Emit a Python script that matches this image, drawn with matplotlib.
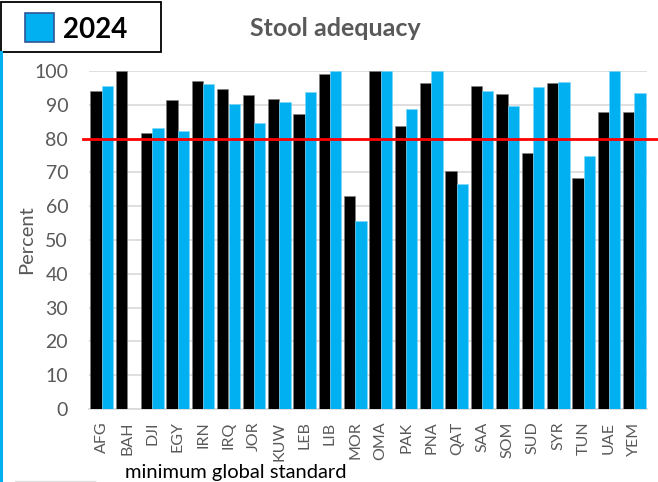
import numpy as np
import matplotlib
matplotlib.use('Agg')
from matplotlib import pyplot as plt
from matplotlib import transforms
from matplotlib.lines import Line2D
from matplotlib.patches import Rectangle

plt.rcParams['font.family'] = ['Lato', 'DejaVu Sans']

# Data
countries = ['AFG', 'BAH', 'DJI', 'EGY', 'IRN', 'IRQ', 'JOR', 'KUW', 'LEB', 'LIB', 'MOR',
             'OMA', 'PAK', 'PNA', 'QAT', 'SAA', 'SOM', 'SUD', 'SYR', 'TUN', 'UAE', 'YEM']
earlier = [94.0, 100.0, 81.7, 91.4, 97.0, 94.8, 93.0, 91.7, 87.2, 99.0, 63.0,
           100.0, 83.8, 96.4, 70.4, 95.7, 93.1, 75.7, 96.5, 68.2, 88.0, 88.0]
y2024 = [95.6, np.nan, 83.2, 82.2, 96.1, 90.3, 84.5, 90.7, 93.7, 100.0, 55.7,
         100.0, 88.7, 100.0, 66.6, 94.1, 89.6, 95.4, 96.7, 74.9, 100.0, 93.6]
yticks = [0, 10, 20, 30, 40, 50, 60, 70, 80, 90, 100]
standard = 80

black = '#000000'
blue = '#00B0F0'
gray_text = '#595959'
grid_color = '#D9D9D9'

fig = plt.figure(figsize=(6.58, 4.82), dpi=100)
ax = fig.add_axes([89 / 658, 73 / 482, 558 / 658, 338 / 482])

x = np.arange(len(countries))
w = 0.445
ax.bar(x - w / 2, earlier, w, color=black, edgecolor='#7F7F7F', linewidth=0.4, zorder=3)
ax.bar(x + w / 2, y2024, w, color=blue, edgecolor='#7FD7F7', linewidth=0.4, zorder=3)

ax.set_xlim(-0.5, len(countries) - 0.5)
ax.set_ylim(0, 100)
ax.set_yticks(yticks)
ax.set_xticks(x)
ax.set_xticklabels(countries, rotation=90, fontsize=11.5, color=gray_text)
ax.tick_params(axis='y', labelsize=14, labelcolor=gray_text, length=0, pad=15)
ax.tick_params(axis='x', length=0, pad=9)
ax.yaxis.grid(True, color=grid_color, linewidth=1.2, zorder=0)
ax.set_axisbelow(True)
for s in ['top', 'right', 'left']:
    ax.spines[s].set_visible(False)
ax.spines['bottom'].set_color(grid_color)
ax.spines['bottom'].set_linewidth(1.2)
ax.set_ylabel('Percent', fontsize=14.5, color=gray_text)
ax.yaxis.set_label_coords(-54 / 558, 0.5)

# minimum global standard line, runs past the plot area
tr = transforms.blended_transform_factory(fig.transFigure, ax.transData)
fig.add_artist(Line2D([83 / 658, 1.0], [standard, standard], transform=tr,
                      color='#FF0000', linewidth=2, zorder=5))

fig.text(335 / 658, 1 - 28 / 482, 'Stool adequacy', ha='center', va='center',
         fontsize=18, fontweight='bold', color=gray_text)

# legend box drawn by hand
fig.add_artist(Rectangle((0.5 / 658, 1 - 52 / 482), 160 / 658, 50 / 482,
                         transform=fig.transFigure, facecolor='white',
                         edgecolor='black', linewidth=1.3))
fig.add_artist(Rectangle((25 / 658, 1 - 42 / 482), 29 / 658, 29 / 482,
                         transform=fig.transFigure, facecolor=blue,
                         edgecolor='#2F5597', linewidth=1.2))
fig.text(63 / 658, 1 - 30 / 482, '2024', ha='left', va='center',
         fontsize=20, fontweight='bold', color='black')

# blue border on the left edge
fig.add_artist(Line2D([1.2 / 658, 1.2 / 658], [0, 1 - 52 / 482],
                      transform=fig.transFigure, color=blue, linewidth=2.2))

fig.text(125 / 658, 1 / 482, 'minimum global standard', ha='left', va='bottom',
         fontsize=14.5, color='black')
fig.add_artist(Line2D([15 / 658, 95 / 658], [1.5 / 482, 1.5 / 482],
                      transform=fig.transFigure, color='#E0E0E0', linewidth=1))

fig.savefig('out.png', dpi=100)
